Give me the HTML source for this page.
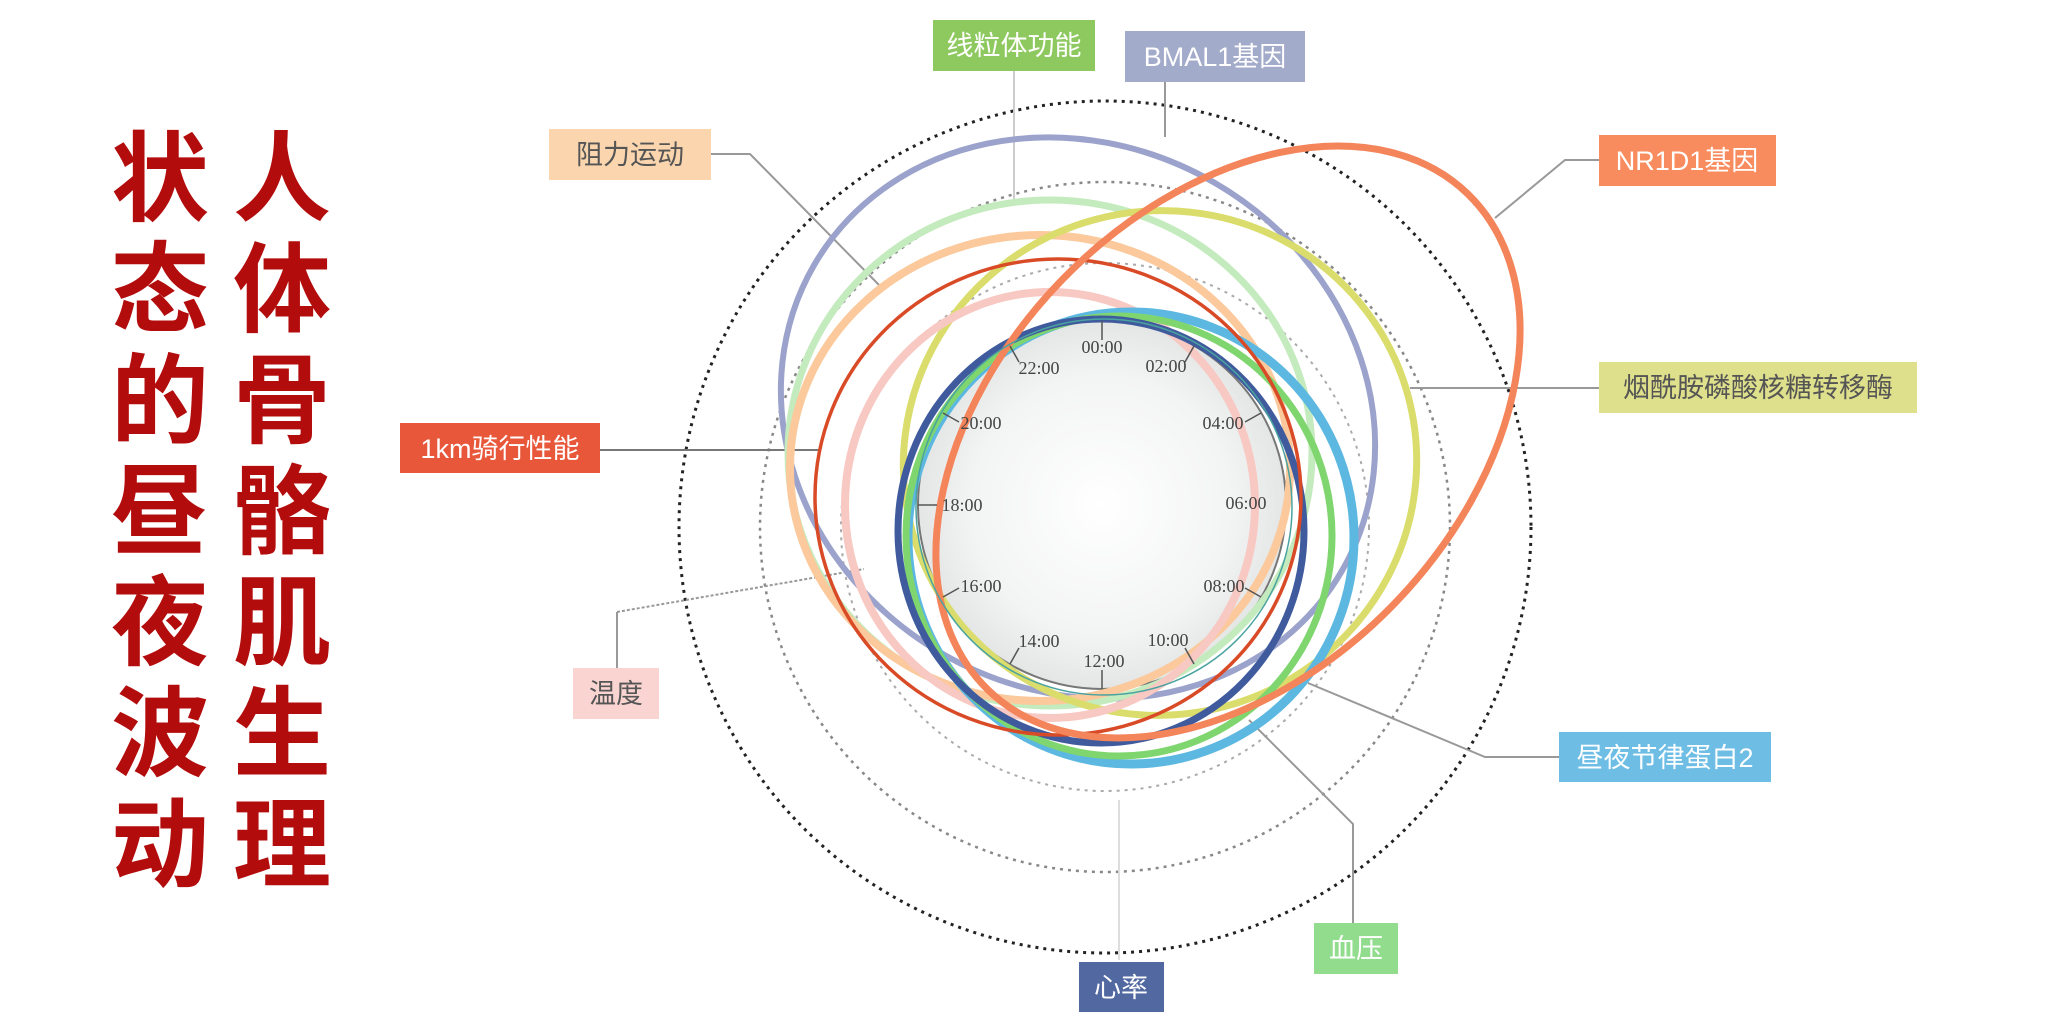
<!DOCTYPE html>
<html><head><meta charset="utf-8"><style>
html,body{margin:0;padding:0;background:#fff;}
svg{display:block;}
.t{font-family:"Liberation Sans","Noto Sans CJK SC",sans-serif;font-size:27px;}
.c{font-family:"Liberation Serif","DejaVu Serif",serif;font-size:18px;fill:#444;}
.h{font-family:"Liberation Sans","Noto Sans CJK SC",sans-serif;font-size:98px;font-weight:bold;fill:#b30c0c;}
</style></head><body>
<svg width="2048" height="1024" viewBox="0 0 2048 1024" xmlns="http://www.w3.org/2000/svg">
<defs>
<radialGradient id="g" cx="0.5" cy="0.5" r="0.5">
<stop offset="0" stop-color="#ffffff"/><stop offset="0.7" stop-color="#f3f4f4"/><stop offset="1" stop-color="#e4e6e6"/>
</radialGradient>
</defs>
<g class="h" text-anchor="middle">
<text x="160" y="213">状</text><text x="160" y="324">态</text><text x="160" y="435">的</text><text x="160" y="546">昼</text><text x="160" y="657">夜</text><text x="160" y="768">波</text><text x="160" y="879">动</text>
<text x="282" y="213">人</text><text x="282" y="324">体</text><text x="282" y="435">骨</text><text x="282" y="546">骼</text><text x="282" y="657">肌</text><text x="282" y="768">生</text><text x="282" y="879">理</text>
</g>
<circle cx="1105" cy="527" r="426" fill="none" stroke="#222" stroke-width="3" stroke-dasharray="3 5"/>
<circle cx="1105" cy="527" r="345" fill="none" stroke="#888" stroke-width="2.5" stroke-dasharray="3 5"/>
<circle cx="1105" cy="527" r="264" fill="none" stroke="#aaa" stroke-width="2" stroke-dasharray="3 5"/>
<g fill="none" stroke="#999" stroke-width="2">
<polyline points="711,154 750,154 879,285"/>
<polyline points="600,450 820,450" stroke="#777"/>
<polyline points="1014,71 1014,200" stroke="#ccc"/>
<polyline points="1165,82 1165,137"/>
<polyline points="1599,160 1565,160 1495,218"/>
<polyline points="1410,388 1599,388"/>
<polyline points="617,668 617,612"/>
<polyline points="617,612 864,569" stroke-dasharray="3 2"/>
<polyline points="1559,757 1485,757 1308,683"/>
<polyline points="1353,923 1353,824 1249,720"/>
<polyline points="1119,960 1119,800" stroke="#ddd"/>
</g>
<circle cx="1102" cy="505" r="184" fill="url(#g)" stroke="#777" stroke-width="2"/>
<g fill="none">
<ellipse cx="1078" cy="418" rx="305" ry="272" transform="rotate(30 1078 418)" stroke="#9ba3cc" stroke-width="6"/>
<ellipse cx="1050" cy="453" rx="262" ry="253" stroke="#c4ebbd" stroke-width="7"/>
<ellipse cx="1040" cy="468" rx="250" ry="233" stroke="#fbc99b" stroke-width="8"/>
<ellipse cx="1160" cy="463" rx="257" ry="252" transform="rotate(-15 1160 463)" stroke="#dadd6c" stroke-width="7"/>
<ellipse cx="1050" cy="505" rx="205" ry="213" stroke="#f8c8c2" stroke-width="8"/>
<ellipse cx="1131" cy="538" rx="223" ry="226" stroke="#5cb8e0" stroke-width="9"/>
<ellipse cx="1119" cy="536" rx="213" ry="220" stroke="#7fd66e" stroke-width="7"/>
<ellipse cx="1101" cy="531" rx="203" ry="212" stroke="#3f5b9d" stroke-width="7"/>
<ellipse cx="1058" cy="497" rx="243" ry="238" stroke="#d94a26" stroke-width="3.5"/>
<ellipse cx="1228" cy="442" rx="345" ry="232" transform="rotate(-46 1228 442)" stroke="#f4845a" stroke-width="7"/>
<circle cx="1104" cy="507" r="188" stroke="#4aa3a0" stroke-width="1.5"/>
</g>
<g stroke="#555" stroke-width="1.5">
<line x1="1102" y1="321" x2="1102" y2="340"/>
<line x1="1194" y1="346" x2="1185" y2="362"/>
<line x1="1261" y1="413" x2="1245" y2="422"/>
<line x1="1261" y1="597" x2="1245" y2="588"/>
<line x1="1194" y1="664" x2="1185" y2="648"/>
<line x1="1102" y1="689" x2="1102" y2="670"/>
<line x1="1010" y1="664" x2="1019" y2="648"/>
<line x1="943" y1="597" x2="959" y2="588"/>
<line x1="918" y1="505" x2="937" y2="505"/>
<line x1="943" y1="413" x2="959" y2="422"/>
<line x1="1010" y1="346" x2="1019" y2="362"/>
</g>
<g class="c" text-anchor="middle">
<text x="1102" y="353">00:00</text><text x="1166" y="372">02:00</text><text x="1223" y="429">04:00</text>
<text x="1246" y="509">06:00</text><text x="1224" y="592">08:00</text><text x="1168" y="646">10:00</text>
<text x="1104" y="667">12:00</text><text x="1039" y="647">14:00</text><text x="981" y="592">16:00</text>
<text x="962" y="511">18:00</text><text x="981" y="429">20:00</text><text x="1039" y="374">22:00</text>
</g>
<g class="t" text-anchor="middle">
<rect x="549" y="129" width="162" height="51" fill="#fad5ae"/><text x="630" y="164" fill="#555">阻力运动</text>
<rect x="400" y="423" width="200" height="50" fill="#e8573a"/><text x="500" y="458" fill="#fff">1km骑行性能</text>
<rect x="933" y="20" width="162" height="51" fill="#8ec960"/><text x="1014" y="55" fill="#fff">线粒体功能</text>
<rect x="1125" y="31" width="180" height="51" fill="#a3abca"/><text x="1215" y="66" fill="#fff">BMAL1基因</text>
<rect x="1599" y="135" width="177" height="51" fill="#f98c5e"/><text x="1687" y="170" fill="#fff">NR1D1基因</text>
<rect x="1599" y="362" width="318" height="51" fill="#dfe08c"/><text x="1758" y="397" fill="#555">烟酰胺磷酸核糖转移酶</text>
<rect x="573" y="668" width="86" height="51" fill="#f9d4d1"/><text x="616" y="703" fill="#555">温度</text>
<rect x="1559" y="732" width="212" height="50" fill="#6dbde4"/><text x="1665" y="767" fill="#fff">昼夜节律蛋白2</text>
<rect x="1314" y="923" width="84" height="51" fill="#92dc8d"/><text x="1356" y="958" fill="#fff">血压</text>
<rect x="1079" y="962" width="85" height="50" fill="#5168a0"/><text x="1121" y="997" fill="#fff">心率</text>
</g>
</svg>
</body></html>
